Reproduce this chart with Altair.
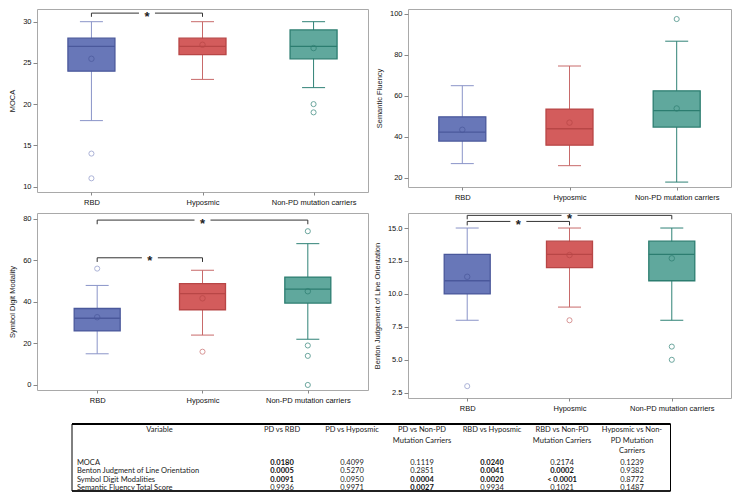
import json
import altair as alt
import pandas as pd

FONT = "Liberation Sans"
TFONT = "Lato"

groups = ["RBD", "Hyposmic", "Non-PD mutation carriers"]
FILL = ["#6877b8", "#d35c5c", "#60a89d"]
STROKE = ["#4a589b", "#b84646", "#2c7d70"]
WHISK = ["#8a94c8", "#c86a6a", "#2f8276"]

# ---- MOCA ----
moca_lo = [18, 23, 22]
moca_q1 = [24, 26, 25.5]
moca_med = [27, 27, 27]
moca_q3 = [28, 28, 29]
moca_hi = [30, 30, 30]
moca_mean = [25.5, 27.2, 26.8]
moca_out = [[14, 11], [], [20, 19]]
moca_br = [(0, 1, 31.04)]

# ---- Semantic Fluency ----
sem_lo = [27, 26, 18]
sem_q1 = [38, 36, 44.8]
sem_med = [42.4, 44, 52.8]
sem_q3 = [49.8, 53.6, 62.5]
sem_hi = [65, 74.6, 86.7]
sem_mean = [43.5, 47, 53.9]
sem_out = [[], [], [97.5]]
sem_br = []

# ---- Symbol Digit Modality ----
sdm_lo = [15, 24, 22]
sdm_q1 = [26, 36.2, 39.4]
sdm_med = [32.1, 44, 46.1]
sdm_q3 = [36.8, 48.8, 51.9]
sdm_hi = [47.9, 55.2, 68]
sdm_mean = [32.6, 41.7, 45.1]
sdm_out = [[56], [16], [74, 19, 14, 0]]
sdm_br = [(0, 1, 61.2), (0, 2, 79.35)]

# ---- Benton ----
ben_lo = [8, 9, 8]
ben_q1 = [10, 12, 11]
ben_med = [11, 13, 13]
ben_q3 = [13, 14, 14]
ben_hi = [15, 15, 15]
ben_mean = [11.3, 12.95, 12.7]
ben_out = [[3], [8], [6, 5]]
ben_br = [(0, 1, 15.5), (0, 2, 15.96)]

# ---- Table ----
variables = ["MOCA", "Benton Judgment of Line Orientation",
             "Symbol Digit Modalities", "Semantic Fluency Total Score"]
comparisons = ["PD vs RBD", "PD vs Hyposmic", "PD vs Non-PD\nMutation Carriers",
               "RBD vs Hyposmic", "RBD vs Non-PD\nMutation Carriers",
               "Hyposmic vs Non-\nPD Mutation\nCarriers"]
p_moca = ["0.0180", "0.4099", "0.1119", "0.0240", "0.2174", "0.1239"]
p_benton = ["0.0005", "0.5270", "0.2851", "0.0041", "0.0002", "0.9382"]
p_sdm = ["0.0091", "0.0950", "0.0004", "0.0020", "< 0.0001", "0.8772"]
p_sem = ["0.9936", "0.9971", "0.0027", "0.9934", "0.1021", "0.1487"]

label_expr = "[" + ",".join(json.dumps(g) for g in groups) + "][datum.value]"


def panel(title, lo, q1, med, q3, hi, mean, outs, brs, ydom, yticks, fmt,
          pad, boxw, leg, w, h):
    stats = pd.DataFrame({"idx": [0, 1, 2], "group": groups, "lo": lo, "q1": q1,
                          "med": med, "q3": q3, "hi": hi, "mean": mean})
    outdf = pd.DataFrame([{"idx": i, "group": groups[i], "v": v}
                          for i in range(3) for v in outs[i]])
    xscale = alt.Scale(domain=[-pad, 2 + pad], nice=False, zero=False)
    yscale = alt.Scale(domain=ydom, nice=False, zero=False)
    xaxis = alt.Axis(values=[0, 1, 2], labelExpr=label_expr, title=None, grid=False,
                     domain=False, tickSize=3, tickColor="#888", labelPadding=3,
                     labelFontSize=7.5, labelColor="#111", labelFont=FONT)
    yaxis = alt.Axis(values=yticks, format=fmt, title=title, grid=False, domain=False,
                     tickSize=4, tickColor="#888", labelPadding=2, labelFontSize=7.5,
                     labelColor="#111", labelFont=FONT, titleFont=FONT,
                     titleFontSize=7.5, titleFontWeight="normal", titleColor="#222",
                     titlePadding=6)

    def X(f="idx"):
        return alt.X(f"{f}:Q", scale=xscale, axis=xaxis)

    def Y(f):
        return alt.Y(f"{f}:Q", scale=yscale, axis=yaxis)

    fill = alt.Fill("group:N", scale=alt.Scale(domain=groups, range=FILL), legend=None)
    stroke = alt.Stroke("group:N", scale=alt.Scale(domain=groups, range=STROKE), legend=None)
    color = alt.Color("group:N", scale=alt.Scale(domain=groups, range=WHISK), legend=None)

    base = alt.Chart(stats)
    whisk = base.mark_rule(strokeWidth=1).encode(x=X(), y=Y("lo"), y2="hi:Q", color=color)
    caps = base.transform_fold(["lo", "hi"], as_=["k", "v"]).mark_rule(
        strokeWidth=1, xOffset=-11.5, x2Offset=11.5).encode(
        x=X(), x2="idx:Q", y=Y("v"), color=color)
    box = base.mark_bar(size=boxw, strokeWidth=1.3).encode(
        x=X(), y=Y("q1"), y2="q3:Q", fill=fill, stroke=stroke)
    median = base.mark_rule(strokeWidth=1.3, xOffset=-boxw / 2, x2Offset=boxw / 2).encode(
        x=X(), x2="idx:Q", y=Y("med"), stroke=stroke)
    meanpt = base.mark_point(shape="circle", filled=False, size=30, strokeWidth=1).encode(
        x=X(), y=Y("mean"), stroke=stroke)
    outpt = alt.Chart(outdf).mark_point(shape="circle", filled=False, size=26,
                                        strokeWidth=1).encode(x=X(), y=Y("v"), color=color)
    layers = [whisk, caps, box, median, meanpt, outpt]

    if brs:
        brdf = pd.DataFrame([{"a": a, "b": b, "lvl": l, "mid": (a + b) / 2,
                              "low": l - leg} for a, b, l in brs])
        bb = alt.Chart(brdf)
        line = bb.mark_rule(color="#333", strokeWidth=1).encode(x=X("a"), x2="b:Q", y=Y("lvl"))
        legA = bb.mark_rule(color="#333", strokeWidth=1).encode(x=X("a"), y=Y("lvl"), y2="low:Q")
        legB = bb.mark_rule(color="#333", strokeWidth=1).encode(x=X("b"), y=Y("lvl"), y2="low:Q")
        gap = bb.mark_rule(color="white", strokeWidth=3, xOffset=-8, x2Offset=8).encode(
            x=X("mid"), x2="mid:Q", y=Y("lvl"))
        star = bb.mark_text(text="*", fontSize=13, fontWeight="bold", font=FONT,
                            color="#222", baseline="alphabetic", dy=7.5).encode(
            x=X("mid"), y=Y("lvl"))
        layers += [line, legA, legB, gap, star]

    return alt.layer(*layers).properties(width=w, height=h)


W_L, W_R = 331, 323
tl = panel("MOCA", moca_lo, moca_q1, moca_med, moca_q3, moca_hi, moca_mean, moca_out,
           moca_br, [9.34, 31.54], [10, 15, 20, 25, 30], "d", 0.445, 47, 0.45, W_L, 183)
tr = panel("Semantic Fluency", sem_lo, sem_q1, sem_med, sem_q3, sem_hi, sem_mean, sem_out,
           sem_br, [15.6, 102.4], [20, 40, 60, 80, 100], "d", 0.46, 47, 2, W_R, 178)
bl = panel("Symbol Digit Modality", sdm_lo, sdm_q1, sdm_med, sdm_q3, sdm_hi, sdm_mean,
           sdm_out, sdm_br, [-2.43, 82.76], [0, 20, 40, 60, 80], "d", 0.524, 46, 2.0,
           W_L, 177)
br = panel("Benton Judgement of Line Orientation", ben_lo, ben_q1, ben_med, ben_q3, ben_hi,
           ben_mean, ben_out, ben_br, [2.1, 16.14], [2.5, 5, 7.5, 10, 12.5, 15], ".1f",
           0.53, 46, 0.3, W_R, 185)

# ---- table chart ----
TBL_LEFT_ABS = 37     # absolute x where the table chart starts (panel frame left)
COL_STEP = 70         # px between comparison columns
FIRST_COL_X = 282     # absolute x of the first comparison column
TBL_W = W_L + 40 + W_R
TBL_H = 73
d0 = 1 - (FIRST_COL_X - TBL_LEFT_ABS) / COL_STEP
d1 = d0 + TBL_W / COL_STEP
ROW_STEP = 8.4
r0 = 1 - 44 / ROW_STEP
r1 = r0 + TBL_H / ROW_STEP
LBL_LEFT = -2.0
TBL_RIGHT = 6.55
TOP = r0 + 5 / ROW_STEP
BOT = r0 + 72 / ROW_STEP
HDR = r0 + 7 / ROW_STEP

tx = alt.Scale(domain=[d0, d1], nice=False, zero=False)
ty = alt.Scale(domain=[r0, r1], nice=False, zero=False, reverse=True)

cells = []
for r, ps in enumerate([p_moca, p_benton, p_sdm, p_sem], start=1):
    for c, s in enumerate(ps, start=1):
        num = float(s.replace("<", "").strip())
        cells.append({"row": r, "col": c, "text": s, "sig": bool(num < 0.05)})
cells = pd.DataFrame(cells)
labels = pd.DataFrame({"row": list(range(1, len(variables) + 1)),
                       "col": LBL_LEFT + 0.07, "text": variables})
header = pd.DataFrame({"row": HDR, "col": [(LBL_LEFT + 0.5) / 2] + list(range(1, 7)),
                       "text": ["Variable"] + comparisons})
frame = pd.DataFrame({"x": [LBL_LEFT], "x2": [TBL_RIGHT], "y": [TOP], "y2": [BOT]})

TX = lambda f: alt.X(f"{f}:Q", scale=tx, axis=None)
TY = lambda f: alt.Y(f"{f}:Q", scale=ty, axis=None)

t_box = alt.Chart(frame).mark_rect(fillOpacity=0, stroke="black", strokeWidth=1).encode(
    x=TX("x"), x2="x2:Q", y=TY("y"), y2="y2:Q")
t_top = alt.Chart(frame).mark_rule(color="black", strokeWidth=2).encode(
    x=TX("x"), x2="x2:Q", y=TY("y"))
t_bot = alt.Chart(frame).mark_rule(color="black", strokeWidth=1.5).encode(
    x=TX("x"), x2="x2:Q", y=TY("y2"))
t_hdr = alt.Chart(header).mark_text(font=TFONT, fontSize=7.5, lineBreak="\n", lineHeight=10.5,
                                    baseline="top", align="center", color="#222").encode(
    x=TX("col"), y=TY("row"), text="text:N")
t_lbl = alt.Chart(labels).mark_text(font=TFONT, fontSize=7.5, align="left", color="#222",
                                    baseline="middle").encode(
    x=TX("col"), y=TY("row"), text="text:N")
t_norm = alt.Chart(cells).transform_filter("!datum.sig").mark_text(
    font=TFONT, fontSize=7.5, align="center", baseline="middle", color="#222").encode(
    x=TX("col"), y=TY("row"), text="text:N")
t_bold = alt.Chart(cells).transform_filter("datum.sig").mark_text(
    font=TFONT, fontSize=7.5, fontWeight="bold", align="center", baseline="middle",
    color="#111").encode(x=TX("col"), y=TY("row"), text="text:N")

table = alt.layer(t_box, t_top, t_bot, t_hdr, t_lbl, t_norm, t_bold).properties(
    width=TBL_W, height=TBL_H, view=alt.ViewBackground(stroke="transparent"))

row1 = alt.hconcat(tl, tr, spacing=40, bounds="flush")
row2 = alt.hconcat(bl, br, spacing=40, bounds="flush")
chart = alt.vconcat(row1, row2, table, spacing=6).properties(
    padding=0).configure_view(stroke="#a9a9a9", strokeWidth=1)

chart.save("out.html", embed_options={"renderer": "svg", "actions": False})
